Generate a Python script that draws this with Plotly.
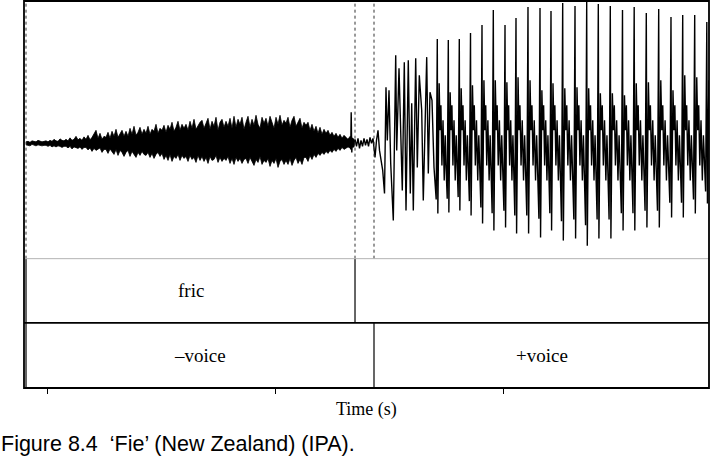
import numpy as np
import plotly.graph_objects as go

# ---------------- data ----------------
# time axis in ms; ticks at 400/500/600 ms (no labels shown)
tick_vals_ms = [400, 500, 600]
x_range_ms = [389.91, 690.35]

# frication noise envelope, read on a regular grid
fric_t0_ms = 390.79
fric_step_ms = 0.8772
fric_upper = [1.5, 2, 1, 2.5, 2, 1.5, 3, 2, 1.5, 2,
              2.5, 1.5, 3, 2, 4, 2.5, 2, 4.5, 3, 2.5,
              4, 2.5, 5.5, 3, 4, 7, 3.5, 5, 3, 6.5,
              4, 8, 3.5, 6, 9, 13, 5, 10, 4, 7,
              6, 11, 5, 12, 7, 14, 6, 9, 13, 7,
              12, 7, 15, 9, 17, 8, 11, 16, 9, 14,
              10, 17, 9, 14, 12, 19, 10, 15, 13, 18,
              11, 18, 14, 21, 12, 16, 22, 13, 19, 15,
              19, 13, 22, 15, 24, 14, 18, 21, 23, 15,
              20, 25, 14, 22, 17, 26, 13, 21, 24, 16,
              22, 17, 25, 15, 27, 16, 24, 19, 26, 14,
              21, 27, 16, 24, 18, 28, 19, 15, 26, 20,
              25, 17, 27, 21, 15, 26, 19, 28, 18, 23,
              20, 26, 16, 23, 27, 17, 22, 25, 15, 21,
              18, 21, 13, 19, 12, 17, 10, 16, 9, 14,
              10, 13, 8, 11, 7, 10, 6, 9, 5, 8,
              6, 4, 7, 5, 4]
fric_lower = [-1.5, -2, -2.5, -1, -2, -2.5, -1.5, -2, -2.5, -2,
              -2, -3, -2, -3.5, -2.5, -3.5, -2.5, -3, -4, -3,
              -3, -4.5, -3, -5.5, -3.5, -4, -5, -3.5, -6, -4,
              -4, -6.5, -4.5, -8, -5, -7, -5.5, -4.5, -9, -6,
              -6, -10, -5.5, -8, -11, -6, -12, -7, -9, -13,
              -9, -7, -13, -8, -11, -14, -9, -12, -8, -11,
              -12, -9, -14, -10, -15, -11, -9, -13, -10, -16,
              -12, -17, -11, -18, -13, -15, -11, -17, -12, -15,
              -13, -18, -12, -16, -14, -19, -12, -17, -13, -18,
              -14, -20, -13, -17, -16, -12, -19, -14, -18, -15,
              -17, -13, -20, -15, -21, -14, -18, -15, -20, -16,
              -15, -20, -14, -18, -22, -16, -19, -13, -21, -17,
              -19, -15, -23, -17, -20, -15, -24, -18, -16, -21,
              -17, -21, -15, -22, -17, -14, -20, -16, -21, -14,
              -14, -18, -12, -16, -11, -14, -10, -12, -9, -11,
              -8, -10, -7, -9, -6, -8, -5, -7, -4, -6,
              -5, -3.5, -4.5, -3.5, -3]

# transition + irregular voicing onset (turning points)
onset_t_ms = [532.89, 533.20, 533.42, 533.68, 533.99, 534.43, 535.09, 535.75, 536.40, 537.06,
              537.72, 538.38, 539.04, 539.69, 540.35, 541.01, 541.67, 542.32, 542.98, 543.86,
              544.52, 545.18, 545.83, 546.49, 547.24, 548.03, 548.68, 549.25, 550.00, 550.75,
              551.89, 552.94, 553.38, 554.39, 555.04, 555.83, 556.71, 557.46, 558.46, 559.34,
              559.96, 560.66, 561.71, 562.41, 563.29, 564.34, 565.04, 566.54, 567.24, 567.98,
              568.86, 569.74]
onset_amp = [3, -6, 31, -9, 5, -4, 4, -3, 5, -5,
             3, -3, 5, -2, 4, -3, 6, 0, 5, -14,
             3, 13, -7, -17, -27, -50, 56, 3, 53, -20,
             -77, 88, -7, 75, 23, -47, 81, -67, 83, -50,
             40, -67, 85, -24, 68, 33, -57, 86, -30, 51,
             43, -24]

# regular glottal cycles: main peak time, peak, deepest trough, secondary peak
cycle_t_ms = [571.18, 576.01, 580.83, 585.75, 590.79, 595.75, 600.88, 605.70, 610.96, 616.23,
              621.05, 626.18, 631.58, 636.71, 641.80, 647.06, 652.41, 657.54, 662.85, 668.29,
              673.68, 678.82, 684.08, 689.39]
cycle_hi = [104, 103, 104, 110, 118, 133, 118, 125, 136, 135,
            132, 140, 137, 141, 139, 137, 133, 136, 130, 134,
            126, 128, 128, 121]
cycle_lo = [-70, -69, -67, -72, -80, -87, -84, -90, -90, -94,
            -87, -97, -95, -102, -95, -95, -87, -87, -84, -84,
            -74, -74, -70, -60]
cycle_mid = [60, 51, 55, 58, 63, 63, 61, 66, 63, 53,
             60, 55, 56, 55, 50, 50, 48, 60, 61, 63,
             53, 68, 66, 63]
# typical shape of the rest of a cycle (phase as share of period, amplitude)
cycle_rest_phase = [0.25, 0.33, 0.42, 0.52, 0.63, 0.72, 0.80]
cycle_rest_amp = [13, 38, -22, 23, -37, 8, -25]

# annotation tiers
tier1_bounds_ms = [390.79, 535.09, 690.35]
tier1_labels = ["fric", ""]
tier2_bounds_ms = [390.79, 543.42, 690.35]
tier2_labels = ["\u2013voice", "+voice"]

# ---------------- build waveform ----------------
fric_t = fric_t0_ms + fric_step_ms * np.arange(len(fric_upper))
fx = np.concatenate([fric_t, fric_t[::-1]]) / 1000.0
fy = np.concatenate([np.array(fric_upper), np.array(fric_lower)[::-1]])

ct = np.array(cycle_t_ms)
per = np.append(np.diff(ct), np.diff(ct)[-1])
wx, wy = list(onset_t_ms), list(onset_amp)
for i in range(len(ct)):
    p = per[i]
    wx += [ct[i] - 0.10 * p, ct[i], ct[i] + 0.05 * p, ct[i] + 0.17 * p]
    wy += [0.8 * cycle_lo[i], cycle_hi[i], cycle_lo[i], cycle_mid[i]]
    for ph, a in zip(cycle_rest_phase, cycle_rest_amp):
        wx.append(ct[i] + ph * p)
        wy.append(a)
wx = np.array(wx) / 1000.0

fig = go.Figure()
fig.add_trace(go.Scatter(x=fx, y=fy, mode="lines", fill="toself", fillcolor="black",
                         line=dict(color="black", width=0.8), hoverinfo="skip", showlegend=False))
fig.add_trace(go.Scatter(x=wx, y=wy, mode="lines", line=dict(color="black", width=1.4),
                         hoverinfo="skip", showlegend=False))

W_BOT = 0.3342   # bottom of waveform panel (paper)
T_MID = 0.1684   # tier1 / tier2 separator (paper)

shapes = []
def vline(xv, y0, y1, dash="solid", color="black", width=1):
    shapes.append(dict(type="line", xref="x", yref="paper", x0=xv, x1=xv, y0=y0, y1=y1,
                       line=dict(color=color, width=width, dash=dash)))

# dotted boundaries in waveform panel
for b in [tier1_bounds_ms[0], tier1_bounds_ms[1], tier2_bounds_ms[1]]:
    vline(b / 1000.0, W_BOT, 1, dash="dot", color="#333333", width=1)
# tier boundaries
vline(tier1_bounds_ms[0] / 1000.0, 0, W_BOT, width=1.2)
vline(tier1_bounds_ms[1] / 1000.0, T_MID, W_BOT, width=1.2)
vline(tier2_bounds_ms[1] / 1000.0, 0, T_MID, width=1.2)
# horizontal separators
shapes.append(dict(type="line", xref="paper", yref="paper", x0=0, x1=1, y0=W_BOT, y1=W_BOT,
                   line=dict(color="#b4b4b4", width=1)))
shapes.append(dict(type="line", xref="paper", yref="paper", x0=0, x1=1, y0=T_MID, y1=T_MID,
                   line=dict(color="black", width=1.6)))
# outer frame
shapes.append(dict(type="rect", xref="paper", yref="paper", x0=0, x1=1, y0=0, y1=1,
                   line=dict(color="black", width=1.8)))
fig.update_layout(shapes=shapes)

ann = []
for labels, bounds, yc in [(tier1_labels, tier1_bounds_ms, (T_MID + W_BOT) / 2),
                           (tier2_labels, tier2_bounds_ms, T_MID / 2)]:
    for k, lab in enumerate(labels):
        if lab:
            ann.append(dict(x=(bounds[k] + bounds[k + 1]) / 2000.0, y=yc, xref="x", yref="paper",
                            xanchor="center", yanchor="middle",
                            text=lab, showarrow=False,
                            font=dict(family="Liberation Serif", size=19, color="black")))
ann.append(dict(x=0.5, y=-0.0544, xref="paper", yref="paper", xanchor="center", yanchor="middle",
                text="Time (s)", showarrow=False,
                font=dict(family="Liberation Serif", size=18, color="black")))
ann.append(dict(x=-0.037, y=-0.145, xref="paper", yref="paper", xanchor="left", yanchor="middle",
                text="Figure 8.4  \u2018Fie\u2019 (New Zealand) (IPA).", showarrow=False,
                font=dict(family="Liberation Sans", size=21.5, color="black")))
fig.update_layout(annotations=ann)

fig.update_layout(
    width=711, height=458,
    margin=dict(l=24, r=2, t=1, b=70),
    paper_bgcolor="white", plot_bgcolor="white",
    xaxis=dict(range=[x_range_ms[0] / 1000.0, x_range_ms[1] / 1000.0],
               tickvals=[v / 1000.0 for v in tick_vals_ms], ticks="outside", ticklen=5,
               tickcolor="black", tickwidth=1.2, showticklabels=False, showgrid=False,
               zeroline=False, showline=False, anchor="free", position=0),
    yaxis=dict(domain=[W_BOT, 1], range=[-115, 142], visible=False, showgrid=False,
               zeroline=False),
)

fig.write_html("out.html", config={"displayModeBar": False},
               post_script="document.body.style.margin='0';document.body.style.padding='0';")
